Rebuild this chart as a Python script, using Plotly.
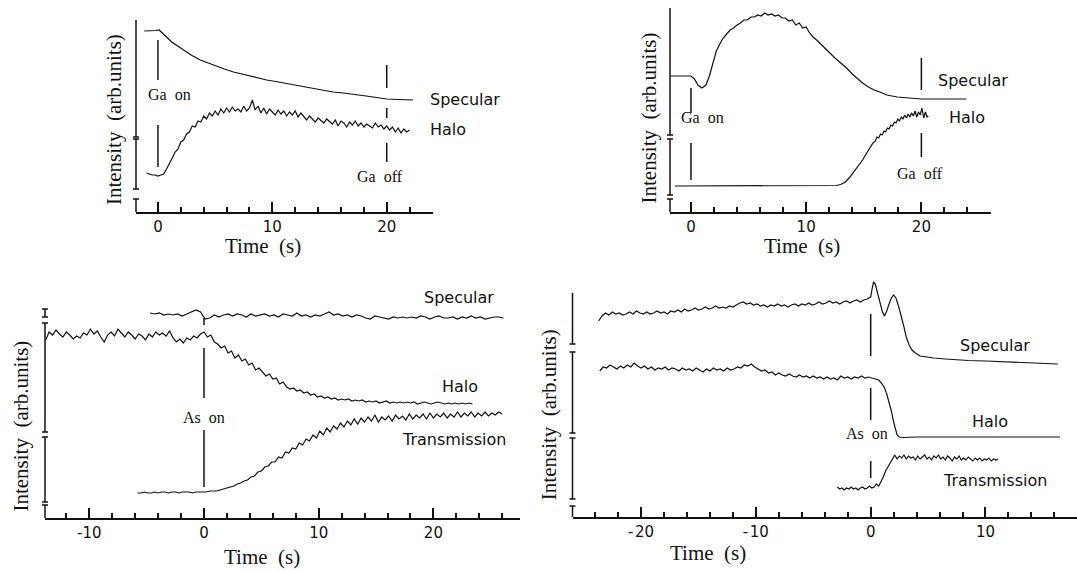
import numpy as np
import plotly.graph_objects as go

W, H = 1077, 572

# ---------------- Panel A (Ga on / off) ----------------
a_spec_t = [-1.2, -0.6, -0.2, 0.1, 0.4, 0.75, 1.2, 1.7, 2.2, 2.9, 3.7, 4.4, 5.0, 5.8, 6.6, 7.3, 8.0, 8.8,
            9.5, 10.3, 11.0, 11.7, 12.4, 13.2, 14.0, 14.7, 15.3, 16.2, 17.0, 18.2, 19.1, 20.0, 21.0, 22.3]
a_spec_y = [181, 181, 181.5, 182, 179, 175, 170, 166, 162, 157, 152, 149, 146, 143, 140, 138, 136, 134,
            132, 130.5, 129, 127.5, 126, 124.5, 123, 121.5, 120, 119, 118, 116, 114.5, 113, 112.5, 112]
a_halo_t0, a_halo_dt = -1.0, 0.25
a_halo_y = [39, 38, 37, 37, 36, 37, 38, 43, 48, 54,
            60, 63, 70, 72, 78, 80, 86, 85, 91, 90,
            96, 93, 99, 96, 101, 97, 103, 99, 104, 100,
            105, 101, 103, 100, 106, 101, 104, 112, 102, 106,
            99, 104, 98, 103, 100, 97, 102, 98, 101, 96,
            100, 97, 101, 95, 99, 96, 92, 96, 93, 90,
            94, 91, 89, 93, 90, 88, 92, 86, 91, 89,
            85, 90, 87, 91, 86, 89, 85, 88, 86, 84,
            89, 85, 87, 83, 86, 82, 85, 80, 84, 79,
            83, 80, 82]

# ---------------- Panel B (Ga on / off) ----------------
b_spec_t = [-1.8, -1.0, -0.5, 0.0, 0.3, 0.6, 0.95, 1.3, 1.6, 1.9, 2.2, 2.5, 2.8, 3.1, 3.4, 3.7, 4.0, 4.3,
            4.6, 4.9, 5.2, 5.5, 5.8, 6.1, 6.4, 6.7, 7.0, 7.3, 7.6, 7.9, 8.2, 8.5, 8.8, 9.1, 9.4, 9.7,
            10.0, 10.3, 10.6, 11.0, 11.5, 12.0, 12.5, 13.0, 13.5, 14.0, 14.5, 14.9, 15.4, 15.9, 16.4,
            17.0, 17.9, 19.0, 20.0, 22.0, 23.9]
b_spec_y = [136, 136, 136, 136, 133, 127, 124, 127, 136, 150, 161, 168, 174, 178, 182, 184, 187, 189,
            192, 192, 195, 195, 197, 196, 199, 197, 198, 196, 197, 194, 194, 191, 192, 187, 189, 184,
            185, 179, 175, 171, 165, 160, 154, 149, 144, 138, 133, 129, 125, 122, 120,
            117, 115, 114, 113, 113, 113]
b_halo_t = [-1.4, 0, 4, 8, 12.0, 12.6, 13.0, 13.4, 13.8, 14.2, 14.6, 14.9, 15.2, 15.5, 15.8, 16.0,
            16.15, 16.3, 16.45, 16.6, 16.75, 16.9, 17.05, 17.2, 17.35, 17.5, 17.65, 17.8, 17.95,
            18.1, 18.25, 18.4, 18.55, 18.7, 18.85, 19.0, 19.15, 19.3, 19.45, 19.6, 19.75, 19.9,
            20.05, 20.2, 20.35, 20.5, 20.6]
b_halo_y = [26, 26, 26, 26, 26, 26.5, 27.5, 30, 35, 41, 47, 52, 58, 63, 69, 71,
            75, 74, 78, 77, 81, 80, 84, 83, 87, 86, 90, 89, 93,
            91, 95, 93, 97, 94, 98, 95, 99, 96, 101, 95, 100, 97,
            104, 94, 100, 95, 96]

# ---------------- Panel C (As on, long) ----------------
c_spec_t0, c_spec_dt = -4.7, 0.4
c_spec_y = [205, 204, 205, 203, 204, 203, 204, 202, 204, 206,
            208, 206, 199, 200, 203, 201, 203, 204, 202, 204,
            203, 201, 204, 202, 203, 204, 202, 203, 201, 204,
            203, 202, 205, 202, 203, 201, 203, 202, 204, 206,
            203, 204, 202, 203, 201, 203, 202, 200, 199, 202,
            201, 200, 199, 201, 200, 201, 200, 201, 200, 202,
            201, 199, 201, 202, 200, 200, 201, 199, 201, 200,
            202, 200, 201, 199, 200, 201, 201, 200]
c_halo_t0, c_halo_dt = -13.8, 0.3
c_halo_y = [178, 186, 183, 188, 184, 181, 186, 183, 179, 182,
            180, 185, 183, 189, 184, 187, 181, 176, 183, 186,
            182, 189, 185, 181, 186, 183, 179, 184, 182, 178,
            184, 181, 186, 183, 185, 182, 187, 180, 176, 179,
            175, 180, 178, 182, 180, 184, 186, 181, 183, 176,
            174, 170, 172, 165, 167, 160, 163, 157, 159, 153,
            155, 148, 150, 146, 142, 144, 139, 140, 134, 136,
            131, 129, 130, 127, 128, 125, 126, 123, 124, 121,
            122, 120, 121, 119, 120, 118, 119, 118, 119, 117,
            118, 117, 118, 116, 117, 116, 117, 115, 116, 117,
            115, 116, 115, 116, 115, 116, 115, 116, 114, 115,
            116, 115, 114, 115, 116, 115, 114, 115, 114, 115,
            114, 115, 114, 115, 114]
c_trans_t0, c_trans_dt = -5.8, 0.3
c_trans_y = [25, 25, 26, 25, 25, 26, 25, 26, 26, 25,
             26, 26, 25, 26, 26, 26, 25, 26, 26, 26,
             26, 27, 27, 27, 28, 29, 30, 31, 32, 34,
             35, 37, 38, 41, 42, 46, 47, 51, 52, 56,
             56, 61, 60, 66, 65, 70, 69, 75, 73, 79,
             77, 83, 80, 87, 83, 90, 86, 92, 89, 95,
             91, 97, 93, 99, 94, 100, 96, 101, 97, 103,
             96, 101, 98, 102, 97, 103, 99, 102, 98, 104,
             99, 103, 100, 104, 99, 105, 100, 104, 101, 105,
             100, 104, 101, 106, 101, 105, 102, 106, 101, 105,
             102, 106, 102, 105, 103, 106, 104]

# ---------------- Panel D (As on, short) ----------------
d_spec_t0, d_spec_dt = -23.7, 0.3
d_spec_noisy_y = [196, 201, 204, 202, 205, 203, 204, 202, 203, 205,
                  203, 206, 204, 203, 205, 203, 204, 206, 204, 205,
                  203, 206, 205, 207, 205, 208, 206, 207, 209, 207,
                  208, 210, 208, 209, 211, 209, 210, 209, 211, 210,
                  212, 214, 215, 213, 214, 212, 213, 211, 212, 210,
                  212, 211, 213, 211, 212, 210, 212, 213, 211, 213,
                  212, 214, 212, 213, 215, 213, 214, 216, 214, 215,
                  213, 215, 216, 214, 216, 217, 215, 217, 218]
d_spec_tail_t = [0.0, 0.12, 0.25, 0.4, 0.6, 0.8, 1.0, 1.2, 1.4, 1.6, 1.8, 2.0, 2.2, 2.45, 2.7, 2.9,
                 3.1, 3.35, 3.6, 3.9, 4.3, 4.8, 5.5, 6.5, 7.5, 8.5, 10.0, 12.0, 14.0, 16.3]
d_spec_tail_y = [220, 228, 235, 233, 224, 214, 206, 201, 206, 213, 219, 222, 219, 210, 200, 190,
                 180, 172, 167, 164, 161, 160, 159, 158, 157, 156.5, 156, 155, 154, 153]
d_halo_t0, d_halo_dt = -23.6, 0.3
d_halo_noisy_y = [146, 150, 149, 152, 150, 148, 151, 149, 152, 150,
                  154, 151, 149, 151, 148, 150, 147, 149, 148, 150,
                  147, 149, 148, 146, 149, 147, 148, 146, 149, 147,
                  145, 148, 146, 149, 147, 148, 146, 149, 147, 148,
                  150, 149, 152, 151, 153, 150, 148, 146, 147, 144,
                  145, 142, 144, 142, 141, 143, 141, 140, 142, 140,
                  141, 139, 141, 139, 140, 138, 140, 138, 139, 137,
                  141, 139, 140, 138, 140, 139, 141, 139, 140, 139,
                  138, 137]
d_halo_tail_t = [1.0, 1.2, 1.4, 1.6, 1.8, 2.0, 2.15, 2.3, 2.5, 2.8, 4.0, 8.0, 12.0, 16.5]
d_halo_tail_y = [133, 129, 123, 115, 106, 95, 87, 82, 80, 79.5, 80, 80, 79.5, 80]
d_trans_t0, d_trans_dt = -2.9, 0.2
d_trans_y = [30, 28, 29, 27, 29, 28, 30, 28, 29, 27,
             29, 30, 28, 29, 31, 29, 30, 33, 31, 35,
             40, 46, 50, 54, 57, 62, 58, 61, 59, 62,
             58, 61, 59, 60, 57, 61, 58, 60, 62, 58,
             60, 57, 61, 59, 62, 58, 60, 57, 61, 59,
             56, 60, 58, 61, 57, 59, 57, 60, 58, 56,
             59, 57, 59, 56, 58, 57, 59, 56, 58, 57,
             58]


def grid(t0, dt, vals):
    return np.round(t0 + dt * np.arange(len(vals)), 3)


# geometry of the four panels (pixel frame of each axes box)
PANELS = {
    "a": dict(ax="", xpx=(136, 432.5), xr=(-1.92, 24.0), ypx=(212, 0), yr=(0, 212), ticks=[0, 10, 20],
              ticktext=["0", "10", "20"]),
    "b": dict(ax="2", xpx=(670, 990.5), xr=(-1.82, 26.0), ypx=(212, 0), yr=(0, 212), ticks=[0, 10, 20],
              ticktext=["0", "10", "20"]),
    "c": dict(ax="3", xpx=(45, 520), xr=(-13.86, 27.55), ypx=(518, 280), yr=(0, 238), ticks=[-10, 0, 10, 20],
              ticktext=["-10", "0", "10", "20"]),
    "d": dict(ax="4", xpx=(572.5, 1077), xr=(-25.97, 17.97), ypx=(517, 270), yr=(0, 247),
              ticks=[-20, -10, 0, 10], ticktext=["-\u200a20", "-\u200a10", "0", "10"]),
}

series = {
    "a": [(a_spec_t, a_spec_y), (grid(a_halo_t0, a_halo_dt, a_halo_y), a_halo_y)],
    "b": [(b_spec_t, b_spec_y), (b_halo_t, b_halo_y)],
    "c": [(grid(c_spec_t0, c_spec_dt, c_spec_y), c_spec_y),
          (grid(c_halo_t0, c_halo_dt, c_halo_y), c_halo_y),
          (grid(c_trans_t0, c_trans_dt, c_trans_y), c_trans_y)],
    "d": [(np.concatenate([grid(d_spec_t0, d_spec_dt, d_spec_noisy_y), d_spec_tail_t]),
           list(d_spec_noisy_y) + d_spec_tail_y),
          (np.concatenate([grid(d_halo_t0, d_halo_dt, d_halo_noisy_y), d_halo_tail_t]),
           list(d_halo_noisy_y) + d_halo_tail_y),
          (grid(d_trans_t0, d_trans_dt, d_trans_y), d_trans_y)],
}

# broken y-axis pieces (data units), with cap flags (bottom, top)
ybreaks = {
    "a": [(75, 192, True, False), (23, 73, True, True), (0, 13, False, True)],
    "b": [(77, 204, True, False), (17, 73, True, True), (0, 13, False, True)],
    "c": [(201, 209, True, True), (86, 195, True, True), (16, 81, True, True), (0, 13, False, True)],
    "d": [(173, 224, True, False), (84, 165, True, True), (18, 79, True, True), (0, 11, False, True)],
}

# event markers (time, [(y0, y1), ...])
markers = {
    "a": [(0, [(132, 172), (45, 87)]), (20, [(124, 147), (94, 104), (50, 69)])],
    "b": [(0, [(99, 124), (32, 69)]), (20, [(122, 154), (55, 79)])],
    "c": [(0, [(193, 200), (120, 170), (31, 88)])],
    "d": [(0, [(161, 203), (97, 129), (39, 56)])],
}

# text labels: (text, x, y, kind, xanchor)
labels = {
    "a": [("Specular", 23.58, 112, "sans", "left"), ("Halo", 23.58, 83, "sans", "left"),
          ("Ga\u00a0 on", 1.05, 117, "serif", "center"), ("Ga\u00a0 off", 19.4, 36, "serif", "center")],
    "b": [("Specular", 21.25, 132, "sans", "left"), ("Halo", 22.2, 94, "sans", "left"),
          ("Ga\u00a0 on", 1.04, 94, "serif", "center"), ("Ga\u00a0 off", 19.86, 39, "serif", "center")],
    "c": [("Specular", 19.0, 221, "sans", "left"), ("Halo", 20.58, 132, "sans", "left"),
          ("Transmission", 17.09, 79, "sans", "left"), ("As\u00a0 on", 0.0, 101, "serif", "center")],
    "d": [("Specular", 7.6, 172, "sans", "left"), ("Halo", 8.65, 96, "sans", "left"),
          ("Transmission", 6.09, 37, "sans", "left"), ("As\u00a0 on", -0.32, 84, "serif", "center")],
}
xtitle_pos = {"a": (9.17, -34), "b": (9.63, -34), "c": (5.06, -39), "d": (-14.17, -36)}
ytitle_pos = {"a": (-3.84, 92), "b": (-3.6, 94), "c": (-15.99, 92), "d": (-28.0, 102)}

SERIF = "Liberation Serif"
SANS = "DejaVu Sans"
INK = "#111111"

fig = go.Figure()
shapes = []
annotations = []
layout_axes = {}

for key, p in PANELS.items():
    ax = p["ax"]
    xname, yname = "x" + ax, "y" + ax
    xd = [p["xpx"][0] / W, p["xpx"][1] / W]
    yd = [1 - p["ypx"][0] / H, 1 - p["ypx"][1] / H]
    layout_axes["xaxis" + ax] = dict(
        domain=xd, range=list(p["xr"]), anchor=yname, showline=True, linecolor=INK, linewidth=1.5,
        ticks="inside", ticklen=10, tickwidth=1.5, tickcolor=INK, tickmode="array",
        tickvals=p["ticks"], ticktext=p["ticktext"], showgrid=False, zeroline=False,
        tickfont=dict(family=SANS, size=15, color=INK), fixedrange=True,
        minor=dict(dtick=2, tick0=0, ticks="inside", ticklen=5, tickwidth=1.5, tickcolor=INK, showgrid=False),
    )
    layout_axes["yaxis" + ax] = dict(domain=yd, range=list(p["yr"]), anchor=xname, visible=False,
                                     fixedrange=True)

    for tx, ty in series[key]:
        fig.add_trace(go.Scatter(x=tx, y=ty, mode="lines", xaxis=xname, yaxis=yname,
                                 line=dict(color=INK, width=1.2), hoverinfo="skip", showlegend=False))

    def xpaper(v, p=p, xd=xd):
        return xd[0] + (v - p["xr"][0]) / (p["xr"][1] - p["xr"][0]) * (xd[1] - xd[0])

    def ypaper(v, p=p, yd=yd):
        return yd[0] + (v - p["yr"][0]) / (p["yr"][1] - p["yr"][0]) * (yd[1] - yd[0])

    # broken y axis drawn in paper coords
    xl = xd[0]
    cap = 3.0 / W
    for y0, y1, c0, c1 in ybreaks[key]:
        shapes.append(dict(type="line", xref="paper", yref="paper", x0=xl, x1=xl, y0=ypaper(y0),
                           y1=ypaper(y1), line=dict(color=INK, width=1.5)))
        if c0:
            shapes.append(dict(type="line", xref="paper", yref="paper", x0=xl - cap, x1=xl + cap,
                               y0=ypaper(y0), y1=ypaper(y0), line=dict(color=INK, width=1.5)))
        if c1:
            shapes.append(dict(type="line", xref="paper", yref="paper", x0=xl - cap, x1=xl + cap,
                               y0=ypaper(y1), y1=ypaper(y1), line=dict(color=INK, width=1.5)))

    for tm, segs in markers[key]:
        for y0, y1 in segs:
            shapes.append(dict(type="line", xref=xname, yref=yname, x0=tm, x1=tm, y0=y0, y1=y1,
                               line=dict(color=INK, width=1.5)))

    for text, lx, ly, kind, anchor in labels[key]:
        fam = SANS if kind == "sans" else SERIF
        annotations.append(dict(text=text, x=xpaper(lx), y=ypaper(ly), xref="paper", yref="paper",
                                showarrow=False, xanchor=anchor, yanchor="middle",
                                font=dict(family=fam, size=16, color=INK)))

    tx_, ty_ = xtitle_pos[key]
    annotations.append(dict(text="Time\u00a0 (s)", x=xpaper(tx_), y=ypaper(ty_), xref="paper", yref="paper",
                            showarrow=False, xanchor="center", yanchor="middle",
                            font=dict(family=SERIF, size=21, color=INK)))
    yx_, yy_ = ytitle_pos[key]
    annotations.append(dict(text="Intensity\u00a0 (arb.units)", x=xpaper(yx_), y=ypaper(yy_),
                            xref="paper", yref="paper", showarrow=False, textangle=-90,
                            xanchor="center", yanchor="middle",
                            font=dict(family=SERIF, size=21, color=INK)))

fig.update_layout(
    width=W, height=H, autosize=False, margin=dict(l=0, r=0, t=0, b=0, pad=0),
    paper_bgcolor="white", plot_bgcolor="rgba(0,0,0,0)", showlegend=False,
    shapes=shapes, annotations=annotations, **layout_axes,
)

fig.write_html("out.html", config={"displayModeBar": False})
